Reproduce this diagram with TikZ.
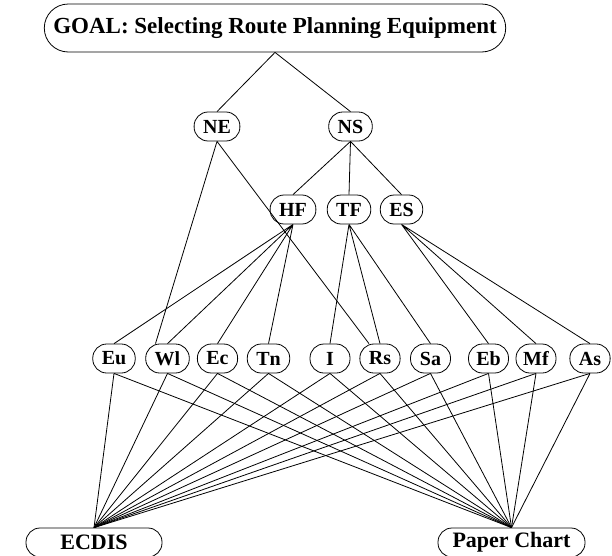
\documentclass[tikz,border=0pt]{standalone}
\usepackage{fontspec}
\setmainfont{Liberation Serif}

\begin{document}
\begin{tikzpicture}[x=1pt,y=-1pt,line width=0.8pt,
	crit/.style={draw,rounded corners=14pt,minimum height=29pt,minimum width=40pt,inner xsep=9pt,inner ysep=0pt,font=\bfseries\fontsize{20}{24}\selectfont},
	goalbox/.style={crit,rounded corners=24pt,minimum height=48pt,minimum width=460pt,font=\bfseries\fontsize{23}{27}\selectfont},
	alt/.style={crit,font=\bfseries\fontsize{22}{26}\selectfont}]
	\clip (0,0) rectangle (612,555);
	% goal
	\node[goalbox] (goal) at (275,28) {GOAL: Selecting Route Planning Equipment};
	% criteria
	\node[crit] (ne) at (217,126.5) {NE};
	\node[crit] (ns) at (350.5,126.5) {NS};
	\node[crit] (hf) at (293,209.5) {HF};
	\node[crit] (tf) at (349,209.5) {TF};
	\node[crit] (es) at (401.5,209.5) {ES};
	% sub-criteria
	\node[crit] (eu) at (114,358.5) {Eu};
	\node[crit] (wl) at (167.5,358.5) {Wl};
	\node[crit] (ec) at (217.5,358.5) {Ec};
	\node[crit] (tn) at (268.5,358.5) {Tn};
	\node[crit] (i) at (330,358.5) {I};
	\node[crit] (rs) at (380,358.5) {Rs};
	\node[crit] (sa) at (430.5,358.5) {Sa};
	\node[crit,inner xsep=7pt] (eb) at (488.5,358.5) {Eb};
	\node[crit,inner xsep=6pt] (mf) at (536,358.5) {Mf};
	\node[crit] (as) at (590,358.5) {As};
	% alternatives
	\node[alt,minimum width=136pt] (ecdis) at (94,542.5) {ECDIS};
	\node[alt,minimum width=147pt] (chart) at (511.5,542.5) {Paper Chart};
	% hierarchy
	\draw (goal.south) -- (ne.north) (goal.south) -- (ns.north);
	\draw (ne.south) -- ([xshift=-12pt]wl.north) (ne.south) -- ([xshift=-11pt]rs.north);
	\draw (ns.south) -- (hf.north) (ns.south) -- (tf.north) (ns.south) -- (es.north);
	\draw (hf.south) -- (eu.north) (hf.south) -- (wl.north) (hf.south) -- (ec.north) (hf.south) -- (tn.north);
	\draw (tf.south) -- (i.north) (tf.south) -- (rs.north) (tf.south) -- (sa.north);
	\draw (es.south) -- (eb.north) (es.south) -- (mf.north) (es.south) -- (as.north);
	% sub-criteria to alternatives
	\draw (eu.south) -- (ecdis.north) (eu.south) -- (chart.north);
	\draw (wl.south) -- (ecdis.north) (wl.south) -- (chart.north);
	\draw (ec.south) -- (ecdis.north) (ec.south) -- (chart.north);
	\draw (tn.south) -- (ecdis.north) (tn.south) -- (chart.north);
	\draw (i.south) -- (ecdis.north) (i.south) -- (chart.north);
	\draw (rs.south) -- (ecdis.north) (rs.south) -- (chart.north);
	\draw (sa.south) -- (ecdis.north) (sa.south) -- (chart.north);
	\draw (eb.south) -- (ecdis.north) (eb.south) -- (chart.north);
	\draw (mf.south) -- (ecdis.north) (mf.south) -- (chart.north);
	\draw (as.south) -- (ecdis.north) (as.south) -- (chart.north);
\end{tikzpicture}
\end{document}
